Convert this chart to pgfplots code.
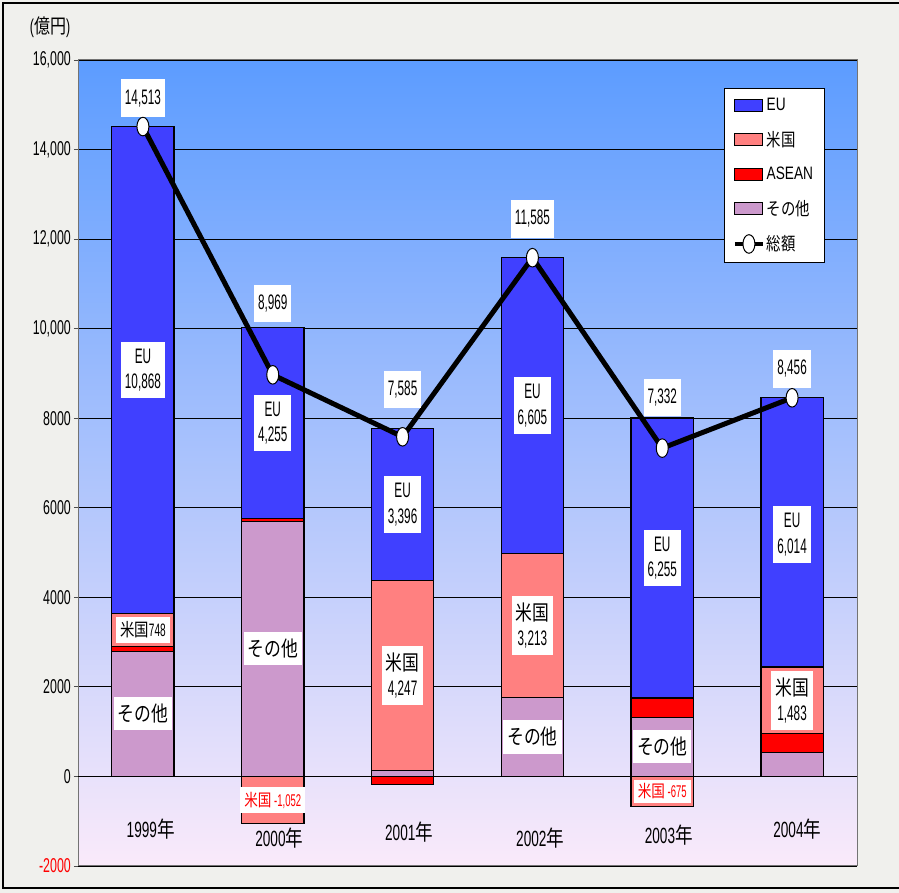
\documentclass[border=0pt]{standalone}
\usepackage{fontspec}
\setmainfont{Liberation Sans}[FakeStretch=0.62]
\newfontfamily\narrow{Liberation Sans}[FakeStretch=0.56]
\newfontfamily\wide{Liberation Sans}[FakeStretch=0.76]
\newfontfamily\jpfont{Noto Sans CJK JP}[FakeStretch=0.8]
\newcommand{\J}[1]{{\jpfont #1}}
\usepackage{pgfplots}
\pgfplotsset{compat=1.18}

\definecolor{cEU}{RGB}{64,64,255}
\definecolor{cUS}{RGB}{255,128,128}
\definecolor{cAS}{RGB}{255,0,0}
\definecolor{cOT}{RGB}{204,153,204}
\definecolor{bgtop}{RGB}{92,156,255}
\definecolor{bgmid}{RGB}{160,198,242}
\definecolor{bgbot}{RGB}{250,234,250}
\definecolor{marble}{RGB}{240,240,237}

\newcommand{\fs}[1]{\fontsize{#1bp}{1.2\dimexpr #1bp\relax}\selectfont}

\pgfplotsset{
  plotframe/.style={scale only axis, width=779bp, height=806bp,
    at={(78bp,27bp)}, anchor=south west,
    xmin=-0.5, xmax=5.5, ymin=-2000, ymax=16000},
  patch/.style={legend image code/.code={
    \draw[##1] (0bp,-6bp) rectangle (28bp,6bp);}},
  lineleg/.style={legend image code/.code={
    \draw[mark repeat=2, mark phase=2, ##1, line width=3.5bp]
      plot coordinates {(0bp,0bp) (14bp,0bp) (28bp,0bp)};}},
  segbar/.style={draw=black, line width=1.2bp},
}
\tikzset{
  lbl/.style={fill=white, inner xsep=4bp, inner ysep=7bp, align=center,
    font=\narrow\fs{21}},
  tot/.style={lbl, inner ysep=10bp},
  yr/.style={font=\fs{22}},
}

\begin{document}
\begin{tikzpicture}
\useasboundingbox (0,0) rectangle (899bp,893bp);
\fill[marble] (0,0) rectangle (899bp,893bp);
\draw[black, line width=2.5bp] (3bp,5bp) rectangle (905bp,890bp);
\node[font=\fs{20}] at (50bp,866bp) {(\J{億円})};

% positive parts, stacked from the zero line
\begin{axis}[plotframe,
  ybar stacked, bar width=0.48,
  axis background/.style={top color=bgtop, middle color=bgmid, bottom color=bgbot},
  xtick=\empty,
  ytick={-2000,0,...,16000},
  scaled y ticks=false,
  yticklabels={\textcolor{red}{-2000},0,2000,4000,6000,8000,{10,000},{12,000},{14,000},{16,000}},
  yticklabel style={font=\fs{20}, inner xsep=3bp},
  ymajorgrids, major grid style={black, line width=0.8bp},
  extra y ticks={0}, extra y tick labels={},
  extra y tick style={grid style={black!55, line width=1.8bp}},
  axis line style={black!55, line width=1bp},
  tick align=outside, ytick pos=left, major tick length=4bp,
  tick style={black!70, line width=0.8bp},
]
\addplot[segbar, fill=cOT] coordinates {(0,2797)(1,5700)(2,127)(3,1767)(4,1322)(5,540)};
\addplot[segbar, fill=cAS] coordinates {(0,100)(1,66)(2,0)(3,0)(4,430)(5,419)};
\addplot[segbar, fill=cUS] coordinates {(0,748)(1,0)(2,4247)(3,3213)(4,0)(5,1483)};
\addplot[segbar, fill=cEU] coordinates {(0,10868)(1,4255)(2,3396)(3,6605)(4,6255)(5,6014)};
\end{axis}

% negative parts, total line, labels, legend
\begin{axis}[plotframe, hide axis, clip=false, bar width=0.48,
  legend cell align=left,
  legend style={at={(0.829,0.965)}, anchor=north west,
    draw=black, line width=0.8bp, fill=white, font=\wide\fs{18},
    row sep=15bp, inner xsep=9bp, inner ysep=8bp},
]
\addplot[ybar, bar shift=0pt, segbar, fill=cUS, forget plot]
  coordinates {(1,-1052)(4,-675)};
\addplot[ybar, bar shift=0pt, segbar, fill=cAS, forget plot]
  coordinates {(2,-185)};

\addlegendimage{patch, fill=cEU, draw=black, line width=1bp}
\addlegendentry{EU}
\addlegendimage{patch, fill=cUS, draw=black, line width=1bp}
\addlegendentry{\J{米国}}
\addlegendimage{patch, fill=cAS, draw=black, line width=1bp}
\addlegendentry{ASEAN}
\addlegendimage{patch, fill=cOT, draw=black, line width=1bp}
\addlegendentry{\J{その他}}

\addplot[lineleg, black, line width=5bp, mark=*, mark size=6bp,
  mark options={fill=white, draw=black, line width=1bp, yscale=1.55}]
  coordinates {(0,14513)(1,8969)(2,7585)(3,11585)(4,7332)(5,8456)};
\addlegendentry{\J{総額}}

% totals
\node[tot] at (0,15150) {14,513};
\node[tot] at (1,10560) {8,969};
\node[tot] at (2,8640) {7,585};
\node[tot] at (3,12450) {11,585};
\node[tot] at (4,8460) {7,332};
\node[tot] at (5,9100) {8,456};

% segment labels
\node[lbl] at (0,9080) {EU\\10,868};
\node[lbl, inner ysep=5bp, font=\narrow\fs{18}] at (0,3271) {\J{米国}748};
\node[lbl] at (0,1398) {\J{その他}};
\node[lbl] at (1,7893) {EU\\4,255};
\node[lbl] at (1,2850) {\J{その他}};
\node[lbl, inner ysep=5bp, font=\narrow\fs{17}, text=red] at (1,-526) {\J{米国} -1,052};
\node[lbl] at (2,6072) {EU\\3,396};
\node[lbl] at (2,2250) {\J{米国}\\4,247};
\node[lbl] at (3,8282) {EU\\6,605};
\node[lbl] at (3,3373) {\J{米国}\\3,213};
\node[lbl] at (3,883) {\J{その他}};
\node[lbl] at (4,4880) {EU\\6,255};
\node[lbl] at (4,661) {\J{その他}};
\node[lbl, inner ysep=4bp, font=\narrow\fs{17}, text=red] at (4,-337) {\J{米国} -675};
\node[lbl] at (5,5400) {EU\\6,014};
\node[lbl] at (5,1700) {\J{米国}\\1,483};

% year labels
\node[yr] at (0.06,-1180) {1999\J{年}};
\node[yr] at (1.05,-1380) {2000\J{年}};
\node[yr] at (2.05,-1250) {2001\J{年}};
\node[yr] at (3.06,-1380) {2002\J{年}};
\node[yr] at (4.05,-1320) {2003\J{年}};
\node[yr] at (5.04,-1180) {2004\J{年}};
\end{axis}
\end{tikzpicture}
\end{document}
